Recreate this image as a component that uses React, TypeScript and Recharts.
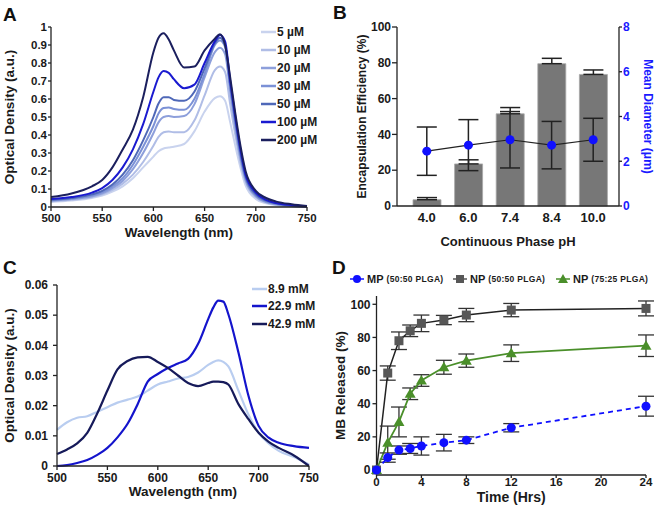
import { LineChart, Line, XAxis, YAxis, Legend, ComposedChart, Bar, ErrorBar, Label } from "recharts";

const FONT = "'Liberation Sans', Arial, Helvetica, sans-serif";

// ---- panel A: methylene blue spectra at several concentrations
const wavelengthsA = [500, 520, 540, 550, 560, 570, 580, 590, 600, 605, 610, 615, 620, 630, 640, 650, 660, 665, 670, 675, 680, 685, 690, 700, 710, 720, 735, 750];
const od5uM = [0.028, 0.036, 0.05, 0.063, 0.085, 0.115, 0.16, 0.22, 0.28, 0.31, 0.325, 0.33, 0.335, 0.35, 0.42, 0.53, 0.605, 0.615, 0.59, 0.47, 0.34, 0.22, 0.12, 0.045, 0.02, 0.01, 0.004, 0.001];
const od10uM = [0.032, 0.04, 0.055, 0.07, 0.095, 0.13, 0.18, 0.25, 0.34, 0.39, 0.415, 0.42, 0.415, 0.415, 0.48, 0.62, 0.76, 0.78, 0.75, 0.57, 0.4, 0.25, 0.14, 0.055, 0.025, 0.013, 0.005, 0.001];
const od20uM = [0.035, 0.044, 0.06, 0.076, 0.105, 0.145, 0.21, 0.3, 0.41, 0.47, 0.5, 0.505, 0.5, 0.505, 0.57, 0.72, 0.86, 0.885, 0.85, 0.64, 0.44, 0.27, 0.15, 0.06, 0.028, 0.015, 0.006, 0.002];
const od30uM = [0.038, 0.047, 0.065, 0.083, 0.115, 0.16, 0.235, 0.335, 0.45, 0.52, 0.55, 0.553, 0.545, 0.54, 0.6, 0.74, 0.9, 0.925, 0.89, 0.67, 0.47, 0.29, 0.16, 0.065, 0.03, 0.017, 0.007, 0.002];
const od50uM = [0.04, 0.05, 0.07, 0.09, 0.125, 0.18, 0.26, 0.37, 0.5, 0.575, 0.61, 0.61, 0.595, 0.59, 0.64, 0.77, 0.91, 0.94, 0.9, 0.68, 0.48, 0.3, 0.17, 0.07, 0.035, 0.02, 0.008, 0.002];
const od100uM = [0.045, 0.055, 0.08, 0.105, 0.15, 0.22, 0.32, 0.46, 0.64, 0.72, 0.755, 0.745, 0.71, 0.66, 0.68, 0.8, 0.92, 0.955, 0.92, 0.7, 0.5, 0.32, 0.18, 0.08, 0.04, 0.022, 0.01, 0.003];
const od200uM = [0.055, 0.075, 0.115, 0.15, 0.22, 0.32, 0.43, 0.61, 0.86, 0.94, 0.965, 0.93, 0.87, 0.775, 0.78, 0.87, 0.935, 0.96, 0.9, 0.72, 0.52, 0.34, 0.2, 0.09, 0.05, 0.03, 0.015, 0.005];
const concLabels = ["5 µM", "10 µM", "20 µM", "30 µM", "50 µM", "100 µM", "200 µM"];
const concColors = ["#c9d3ee", "#b0bde6", "#8d9fdb", "#7b91d6", "#4f68b8", "#1a1ad0", "#1b1f5e"];
const concSeries = [od5uM, od10uM, od20uM, od30uM, od50uM, od100uM, od200uM];
const yTicksA = [0, 0.1, 0.2, 0.3, 0.4, 0.5, 0.6, 0.7, 0.8, 0.9, 1];

// ---- panel B: encapsulation vs continuous phase pH
const phLabels = ["4.0", "6.0", "7.4", "8.4", "10.0"];
const encapEff = [3.5, 23.5, 51.5, 79.5, 73.5];
const encapErr = [1.2, 2.3, 3.5, 3, 2.5];
const meanDiam = [2.45, 2.72, 2.96, 2.72, 2.96];
const diamErr = [1.08, 1.14, 1.26, 1.06, 0.96];

// ---- panel C: spectra at three salt concentrations
const wavelengthsC = [500, 510, 520, 530, 540, 550, 560, 570, 580, 590, 600, 610, 620, 630, 640, 650, 655, 660, 665, 670, 680, 690, 700, 710, 720, 735, 750];
const od8_9 = [0.012, 0.0145, 0.016, 0.0165, 0.018, 0.0195, 0.021, 0.022, 0.023, 0.025, 0.027, 0.028, 0.029, 0.0295, 0.031, 0.0335, 0.0345, 0.035, 0.0345, 0.033, 0.025, 0.017, 0.011, 0.0075, 0.005, 0.003, 0.0005];
const od22_9 = [0, 0.0003, 0.001, 0.002, 0.0037, 0.006, 0.0095, 0.014, 0.0205, 0.028, 0.0305, 0.0325, 0.034, 0.0355, 0.0405, 0.0487, 0.0525, 0.0548, 0.0545, 0.0503, 0.0376, 0.0232, 0.0133, 0.0094, 0.0077, 0.0066, 0.006];
const od42_9 = [0.004, 0.0055, 0.0075, 0.011, 0.0175, 0.025, 0.032, 0.0348, 0.036, 0.0362, 0.0345, 0.0325, 0.03, 0.0275, 0.0265, 0.0275, 0.028, 0.028, 0.0278, 0.027, 0.0205, 0.0155, 0.011, 0.008, 0.006, 0.0035, 0];
const mmLabels = ["8.9 mM", "22.9 mM", "42.9 mM"];
const mmColors = ["#b9cdf0", "#1414cc", "#161a5a"];
const yTicksC = [0, 0.01, 0.02, 0.03, 0.04, 0.05, 0.06];

// ---- panel D: release over time
const hours = [0, 1, 2, 3, 4, 6, 8, 12, 24];
const mpRel = [0, 7.5, 12, 13, 14.5, 16.5, 18, 25.5, 38.5];
const mpErr = [0, 2.8, 2.5, 3, 5.5, 5, 2, 2.5, 6];
const np5050Rel = [0, 58.5, 78, 84, 88.5, 90.5, 93.5, 96.5, 97.5];
const np5050Err = [0, 4.3, 5.3, 3.5, 5, 2.8, 4, 4, 4.5];
const np7525Rel = [0, 16.5, 29, 46, 54, 62, 66, 70.5, 75];
const np7525Err = [0, 10, 9, 3.5, 3.5, 4.2, 4, 5, 6.5];

const rowsA = wavelengthsA.map((w, i) => {
  const row: any = { w };
  concSeries.forEach((s, k) => (row["c" + k] = s[i]));
  return row;
});
const rowsB = phLabels.map((ph, i) => ({ ph, eff: encapEff[i], effErr: [0, encapErr[i]], diam: meanDiam[i], diamErr: diamErr[i] }));
const rowsC = wavelengthsC.map((w, i) => ({ w, a: od8_9[i], b: od22_9[i], c: od42_9[i] }));
const rowsD = hours.map((t, i) => ({
  t,
  mp: mpRel[i], mpErr: mpErr[i],
  np1: np5050Rel[i], np1Err: np5050Err[i],
  np2: np7525Rel[i], np2Err: np7525Err[i],
}));

const tick = { fontSize: 12, fontWeight: 700, fill: "#1a1a1a", fontFamily: FONT };
const axisLine = { stroke: "#222", strokeWidth: 1.3 };
const titleStyle = { fontSize: 13.5, fontWeight: 700, fill: "#1a1a1a", fontFamily: FONT, textAnchor: "middle" as const };

function LineKey({ labels, colors, rowH }: { labels: string[]; colors: string[]; rowH: number }) {
  return (
    <div style={{ fontFamily: FONT, fontWeight: 700, fontSize: 12, color: "#1a1a1a" }}>
      {labels.map((l, i) => (
        <div key={l} style={{ display: "flex", alignItems: "center", height: rowH }}>
          <svg width={15} height={4}>
            <line x1={0} y1={2} x2={15} y2={2} stroke={colors[i]} strokeWidth={2.5} />
          </svg>
          <span style={{ marginLeft: 1 }}>{l}</span>
        </div>
      ))}
    </div>
  );
}

const circleDot = (p: any) => <circle key={"c" + p.index} cx={p.cx} cy={p.cy} r={4.5} fill="#1010ff" />;
const squareDot = (p: any) => <rect key={"s" + p.index} x={p.cx - 4.5} y={p.cy - 4.5} width={9} height={9} fill="#575757" />;
const triDot = (p: any) => (
  <polygon key={"t" + p.index} points={`${p.cx},${p.cy - 5.5} ${p.cx - 5.5},${p.cy + 4} ${p.cx + 5.5},${p.cy + 4}`} fill="#4a8f2a" />
);

const releaseKeys = [
  { main: "MP", sub: "(50:50 PLGA)", color: "#1010ff", shape: "circle" },
  { main: "NP", sub: "(50:50 PLGA)", color: "#575757", shape: "square" },
  { main: "NP", sub: "(75:25 PLGA)", color: "#4a8f2a", shape: "tri" },
];

function ReleaseKey() {
  return (
    <div style={{ display: "flex", fontFamily: FONT, fontWeight: 700, color: "#1a1a1a" }}>
      {releaseKeys.map((k, i) => (
        <div key={i} style={{ display: "flex", alignItems: "center", width: 103 }}>
          <svg width={14} height={12}>
            <line x1={0} y1={6} x2={14} y2={6} stroke={k.color} strokeWidth={1.5} />
            {k.shape === "circle" && <circle cx={7} cy={6} r={4} fill={k.color} />}
            {k.shape === "square" && <rect x={3} y={2} width={8} height={8} fill={k.color} />}
            {k.shape === "tri" && <polygon points="7,1 2,10 12,10" fill={k.color} />}
          </svg>
          <span style={{ fontSize: 11, marginLeft: 3 }}>{k.main}</span>
          <span style={{ fontSize: 8.5, marginLeft: 3, letterSpacing: 0.3 }}>{k.sub}</span>
        </div>
      ))}
    </div>
  );
}

const letter = (ch: string, left: number, top: number) => (
  <div style={{ position: "absolute", left, top, fontFamily: FONT, fontWeight: 700, fontSize: 19, lineHeight: "19px", color: "#111" }}>{ch}</div>
);

export default function App() {
  return (
    <div style={{ position: "absolute", left: 0, top: 0, width: 656, height: 512, background: "#fff" }}>
      <div style={{ position: "absolute", left: 0, top: 0 }}>
        <LineChart width={328} height={256} data={rowsA} margin={{ top: 27, right: 21, bottom: 0, left: 0 }}>
          <XAxis dataKey="w" type="number" domain={[500, 750]} ticks={[500, 550, 600, 650, 700, 750]} height={49} interval={0}
            tick={{ ...tick, fontSize: 11.5 }} tickSize={4} tickMargin={3} axisLine={axisLine} tickLine={axisLine}>
            <Label value="Wavelength (nm)" position="insideBottom" offset={19} style={titleStyle} />
          </XAxis>
          <YAxis domain={[0, 1]} ticks={yTicksA} width={51} interval={0} tick={{ ...tick, fontSize: 11.5 }} tickSize={3} tickMargin={1}
            axisLine={axisLine} tickLine={axisLine}>
            <Label value="Optical Density (a.u.)" angle={-90} position="insideLeft" offset={9} style={titleStyle} />
          </YAxis>
          {concLabels.map((l, k) => (
            <Line key={l} dataKey={"c" + k} name={l} type="monotone" stroke={concColors[k]} strokeWidth={2}
              dot={false} isAnimationActive={false} />
          ))}
          <Legend layout="vertical" align="center" verticalAlign="middle" wrapperStyle={{ left: 261, top: 23, width: 70, height: 130 }}
            content={() => <LineKey labels={concLabels} colors={concColors} rowH={18} />} />
        </LineChart>
      </div>

      <div style={{ position: "absolute", left: 328, top: 0 }}>
        <ComposedChart width={328} height={256} data={rowsB} margin={{ top: 27, right: 0, bottom: 0, left: 0 }}>
          <XAxis dataKey="ph" height={50} padding={{ left: 9, right: 5 }} interval={0} tick={{ ...tick, fontSize: 13 }} tickLine={false}
            tickSize={5} tickMargin={2} axisLine={axisLine}>
            <Label value="Continuous Phase pH" position="insideBottom" offset={10} style={{ ...titleStyle, fontSize: 13 }} />
          </XAxis>
          <YAxis yAxisId="left" domain={[0, 100]} ticks={[0, 20, 40, 60, 80, 100]} width={69} interval={0} tick={tick}
            tickSize={5} tickMargin={1} axisLine={axisLine} tickLine={axisLine}>
            <Label value="Encapsulation Efficiency (%)" angle={-90} position="insideLeft" offset={34} style={{ ...titleStyle, fontSize: 12 }} />
          </YAxis>
          <YAxis yAxisId="right" orientation="right" domain={[0, 8]} ticks={[0, 2, 4, 6, 8]} width={37} interval={0}
            tick={{ ...tick, fill: "#1a1aff" }} tickSize={3} tickMargin={1} axisLine={axisLine} tickLine={axisLine}>
            <Label value="Mean Diameter (μm)" angle={90} position="insideRight" offset={8} style={{ ...titleStyle, fontSize: 12, fill: "#1a1aff" }} />
          </YAxis>
          <Bar yAxisId="left" dataKey="eff" barSize={28} fill="#777777" stroke="#a8a8a8" strokeWidth={0.8} isAnimationActive={false}>
            <ErrorBar dataKey="effErr" width={10} stroke="#222" strokeWidth={1.5} direction="y" />
          </Bar>
          <Line yAxisId="right" dataKey="diam" stroke="#222" strokeWidth={1.2} dot={{ r: 4.5, fill: "#1010ff", stroke: "none" }}
            isAnimationActive={false}>
            <ErrorBar dataKey="diamErr" width={10} stroke="#222" strokeWidth={1.5} direction="y" />
          </Line>
        </ComposedChart>
      </div>

      <div style={{ position: "absolute", left: 0, top: 256 }}>
        <LineChart width={328} height={256} data={rowsC} margin={{ top: 29, right: 19, bottom: 0, left: 0 }}>
          <XAxis dataKey="w" type="number" domain={[500, 750]} ticks={[500, 550, 600, 650, 700, 750]} height={46} interval={0}
            tick={tick} tickSize={4} tickMargin={3} axisLine={axisLine} tickLine={axisLine}>
            <Label value="Wavelength (nm)" position="insideBottom" offset={16} style={titleStyle} />
          </XAxis>
          <YAxis domain={[0, 0.06]} ticks={yTicksC} width={57} interval={0} tick={tick} tickSize={4} tickMargin={5}
            axisLine={axisLine} tickLine={axisLine}>
            <Label value="Optical Density (a.u.)" angle={-90} position="insideLeft" offset={9} style={titleStyle} />
          </YAxis>
          <Line dataKey="a" name={mmLabels[0]} type="monotone" stroke={mmColors[0]} strokeWidth={2.2} dot={false} isAnimationActive={false} />
          <Line dataKey="b" name={mmLabels[1]} type="monotone" stroke={mmColors[1]} strokeWidth={2.2} dot={false} isAnimationActive={false} />
          <Line dataKey="c" name={mmLabels[2]} type="monotone" stroke={mmColors[2]} strokeWidth={2.2} dot={false} isAnimationActive={false} />
          <Legend layout="vertical" align="center" verticalAlign="middle" wrapperStyle={{ left: 252, top: 24, width: 76, height: 56 }}
            content={() => <LineKey labels={mmLabels} colors={mmColors} rowH={17.5} />} />
        </LineChart>
      </div>

      <div style={{ position: "absolute", left: 328, top: 256 }}>
        <LineChart width={328} height={256} data={rowsD} margin={{ top: 40, right: 10, bottom: 0, left: 0 }}>
          <XAxis dataKey="t" type="number" domain={[0, 24]} ticks={[0, 4, 8, 12, 16, 20, 24]} height={37} interval={0}
            tick={{ ...tick, fontSize: 11.5 }} tickSize={3} tickMargin={0} axisLine={axisLine} tickLine={axisLine}>
            <Label value="Time (Hrs)" position="insideBottom" offset={10} style={{ ...titleStyle, fontSize: 14 }} />
          </XAxis>
          <YAxis domain={[0, 105]} ticks={[0, 20, 40, 60, 80, 100]} width={48.5} interval={0} padding={{ bottom: 5 }} tick={tick}
            tickSize={4} tickMargin={2} axisLine={axisLine} tickLine={axisLine}>
            <Label value="MB Released (%)" angle={-90} position="insideLeft" offset={12} style={titleStyle} />
          </YAxis>
          <Line dataKey="np1" stroke="#222" strokeWidth={1.5} dot={squareDot} isAnimationActive={false}>
            <ErrorBar dataKey="np1Err" width={8} stroke="#333" strokeWidth={1.3} direction="y" />
          </Line>
          <Line dataKey="np2" stroke="#4a8f2a" strokeWidth={1.8} dot={triDot} isAnimationActive={false}>
            <ErrorBar dataKey="np2Err" width={8} stroke="#333" strokeWidth={1.3} direction="y" />
          </Line>
          <Line dataKey="mp" stroke="#1010ff" strokeWidth={1.8} strokeDasharray="5 4" dot={circleDot} isAnimationActive={false}>
            <ErrorBar dataKey="mpErr" width={8} stroke="#333" strokeWidth={1.3} direction="y" />
          </Line>
          <Legend layout="vertical" align="center" verticalAlign="middle" wrapperStyle={{ left: 22, top: 17, width: 310, height: 14 }}
            content={() => <ReleaseKey />} />
        </LineChart>
      </div>

      {letter("A", 3, 5)}
      {letter("B", 333, 3)}
      {letter("C", 3, 258)}
      {letter("D", 332, 258)}
    </div>
  );
}
